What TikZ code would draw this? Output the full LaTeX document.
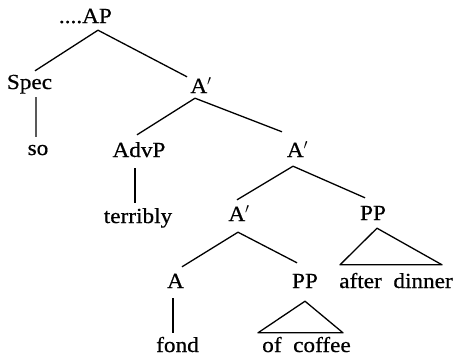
\documentclass[tikz,border=0pt]{standalone}
\usepackage{fontspec}
\setmainfont{Liberation Serif}[FakeStretch=1.08,FakeBold=0.6]
\begin{document}
\begin{tikzpicture}[x=1bp,y=-1bp,
  tn/.style={inner sep=0pt, text height=15bp, text depth=5bp, anchor=base},
  br/.style={line width=1.3bp, line join=round}]
\useasboundingbox (0,0) rectangle (454,358);
\tikzset{every node/.style={font=\fontsize{21.5bp}{25bp}\selectfont}}
\node[tn] (ap) at (97,23) {\llap{....}AP};
\node[tn] (spec) at (29.5,89) {Spec};
\node[tn] (so) at (38,155) {so};
\node[tn] (a1) at (201,93) {A$'$};
\node[tn] (advp) at (139,157) {AdvP};
\node[tn] (terribly) at (138,223) {terribly};
\node[tn] (a2) at (297.5,157) {A$'$};
\node[tn] (a3) at (239,221) {A$'$};
\node[tn] (pp1) at (373,220) {PP};
\node[tn] (after) at (396,288) {after\ \ dinner};
\node[tn] (a) at (175.5,288) {A};
\node[tn] (pp2) at (305,288) {PP};
\node[tn] (fond) at (177.5,352) {fond};
\node[tn] (coffee) at (306.5,352) {of\ \ coffee};
% branches
\draw[br] ([shift={(5.5,-3)}]spec.north) -- ([shift={(1,2)}]ap.south) -- ([shift={(-14,-1)}]a1.north);
\draw[br] ([shift={(-2,-7)}]advp.north) -- ([shift={(-6,0)}]a1.south) -- ([shift={(-15.5,-10)}]a2.north);
\draw[br] ([shift={(6.5,3)}]spec.south) -- ([shift={(-2,-3)}]so.north);
\draw[br] ([shift={(-4,6)}]advp.south) -- ([shift={(-3,-5)}]terribly.north);
\draw[br] ([shift={(-2,-6)}]a3.north) -- ([shift={(-4.5,4)}]a2.south) -- ([shift={(-8,-7)}]pp1.north);
\draw[br] ([shift={(6.5,-6)}]a.north) -- ([shift={(-1,6)}]a3.south) -- ([shift={(-8,-10)}]pp2.north);
\draw[br] ([shift={(4,3)}]pp1.south) -- ([shift={(-56,-8)}]after.north) -- ([shift={(46,-8)}]after.north) -- cycle;
\draw[br] ([shift={(-2.5,5)}]a.south) -- ([shift={(-4.5,-4)}]fond.north);
\draw[br] ([shift={(0,8)}]pp2.south) -- ([shift={(-48.5,-4)}]coffee.north) -- ([shift={(36.5,-4)}]coffee.north) -- cycle;
\end{tikzpicture}
\end{document}
